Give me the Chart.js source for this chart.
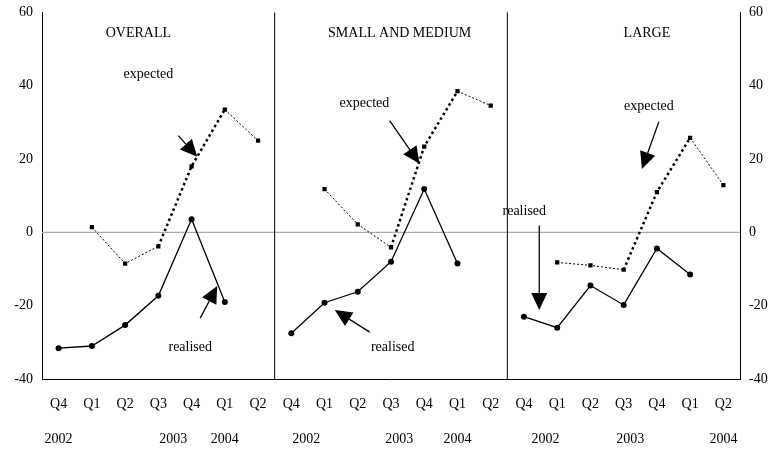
<!DOCTYPE html>
<html><head><meta charset="utf-8">
<script src="https://cdn.jsdelivr.net/npm/chart.js@4/dist/chart.umd.min.js"></script>
<style>body{margin:0;background:#fff}#wrap{width:782px;height:453px}</style>
</head><body><div id="wrap"><canvas id="c"></canvas></div>
<script>
const quarters = ['Q4','Q1','Q2','Q3','Q4','Q1','Q2','Q4','Q1','Q2','Q3','Q4','Q1','Q2','Q4','Q1','Q2','Q3','Q4','Q1','Q2'];
const yearLabels = ['2002','2003','2004','2002','2003','2004','2002','2003','2004'];
const panelTitles = ['OVERALL','SMALL AND MEDIUM','LARGE'];
const realised = [-31.6,-31,-25.3,-17.3,3.6,-19,null, -27.5,-19.2,-16.2,-8,11.8,-8.5,null, -23,-26,-14.5,-19.8,-4.4,-11.5,null];
const expected = [null,1.4,-8.5,-3.8,18,33.5,25, null,11.8,2.2,-4.1,23.4,38.5,34.6, null,-8.2,-9,-10.2,11,25.8,12.9];
const yTicks = [-40,-20,0,20,40,60];

// positions in category-index / value units
const yearPos = [0,3.45,5,7.45,10.25,12,14.65,17.2,20];
const titlePos = [[2.4,54.4],[10.26,54.4],[17.7,54.4]];
const labels = [['expected',2.7,43],['realised',3.96,-31.3],['expected',9.2,35.2],['realised',10.05,-31.3],['expected',17.76,34.3],['realised',14.01,5.8]];
const arrows = [[3.6,26.4,4.17,20.6],[4.26,-23.4,4.77,-14.6],[9.96,30.5,10.86,18.7],[9.36,-27.2,8.31,-21.2],[18.06,30.2,17.55,17.3],[14.46,1.9,14.46,-21.2]];

const serif = '"Liberation Serif", "Times New Roman", serif';

const deco = {
  id: 'deco',
  beforeDatasetsDraw(chart) {
    const {ctx, chartArea: a, scales: {x, y}} = chart;
    ctx.save();
    ctx.strokeStyle = '#aaa'; ctx.lineWidth = 1.2;
    ctx.beginPath(); ctx.moveTo(a.left, y.getPixelForValue(0)); ctx.lineTo(a.right, y.getPixelForValue(0)); ctx.stroke();
    ctx.strokeStyle = '#000'; ctx.lineWidth = 1;
    [6.5, 13.5].forEach(i => {
      const px = (x.getPixelForValue(Math.floor(i)) + x.getPixelForValue(Math.ceil(i))) / 2;
      ctx.beginPath(); ctx.moveTo(px, a.top); ctx.lineTo(px, a.bottom); ctx.stroke();
    });
    ctx.restore();
  },
  afterDraw(chart) {
    const {ctx, chartArea: a, scales: {x, y}} = chart;
    const px = i => x.getPixelForValue(0) + i * (x.getPixelForValue(1) - x.getPixelForValue(0));
    ctx.save();
    ctx.fillStyle = '#000'; ctx.strokeStyle = '#000';
    ctx.font = '14px ' + serif; ctx.textAlign = 'center'; ctx.textBaseline = 'middle';
    panelTitles.forEach((t, k) => ctx.fillText(t, px(titlePos[k][0]), y.getPixelForValue(titlePos[k][1])));
    labels.forEach(([t, i, v]) => ctx.fillText(t, px(i), y.getPixelForValue(v)));
    ctx.font = '14px ' + serif;
    yearLabels.forEach((t, k) => ctx.fillText(t, px(yearPos[k]), a.bottom + 60));
    arrows.forEach(([i1, v1, i2, v2]) => {
      const x1 = px(i1), y1 = y.getPixelForValue(v1), x2 = px(i2), y2 = y.getPixelForValue(v2);
      const ang = Math.atan2(y2 - y1, x2 - x1), L = 17, W = 8;
      const bx = x2 - L * Math.cos(ang), by = y2 - L * Math.sin(ang);
      ctx.lineWidth = 1.3;
      ctx.beginPath(); ctx.moveTo(x1, y1); ctx.lineTo(bx, by); ctx.stroke();
      ctx.beginPath(); ctx.moveTo(x2, y2);
      ctx.lineTo(bx + W * Math.sin(ang), by - W * Math.cos(ang));
      ctx.lineTo(bx - W * Math.sin(ang), by + W * Math.cos(ang));
      ctx.closePath(); ctx.fill();
    });
    ctx.restore();
  }
};

const thick = i => [3, 4, 10, 11, 17, 18].includes(i);
const yAxis = pos => ({
  position: pos, min: -40, max: 60,
  afterBuildTicks: s => { s.ticks = yTicks.map(v => ({value: v})); },
  afterFit: s => { s.width = 42; },
  grid: {display: false, drawTicks: true, tickLength: 5},
  border: {color: '#000'},
  ticks: {color: '#000', font: {family: serif, size: 14}, padding: 4}
});

new Chart(document.getElementById('c'), {
  type: 'line',
  data: {
    labels: quarters,
    datasets: [
      {label: 'realised', data: realised, borderColor: '#000', borderWidth: 1.3, pointStyle: 'circle', pointRadius: 3, pointBackgroundColor: '#000', pointBorderWidth: 0, spanGaps: false},
      {label: 'expected', data: expected, borderColor: '#000', pointStyle: 'rect', pointRadius: 3, pointBackgroundColor: '#000', pointBorderWidth: 0, spanGaps: false,
       segment: {
         borderWidth: c => thick(c.p0DataIndex) ? 2.5 : 1,
         borderDash: c => thick(c.p0DataIndex) ? [2.5, 3] : [2, 2]
       }}
    ]
  },
  options: {
    animation: false, responsive: true, maintainAspectRatio: false,
    layout: {padding: {top: 8, bottom: 40, left: 0, right: 0}},
    plugins: {legend: {display: false}, tooltip: {enabled: false}},
    scales: {
      x: {offset: true, grid: {display: false, offset: true, tickLength: 5}, border: {color: '#000'},
          afterFit: s => { s.height = 34; },
          ticks: {color: '#000', font: {family: serif, size: 14}, padding: 12, maxRotation: 0, autoSkip: false}},
      y: yAxis('left'),
      y2: yAxis('right')
    }
  },
  plugins: [deco]
});
</script></body></html>
